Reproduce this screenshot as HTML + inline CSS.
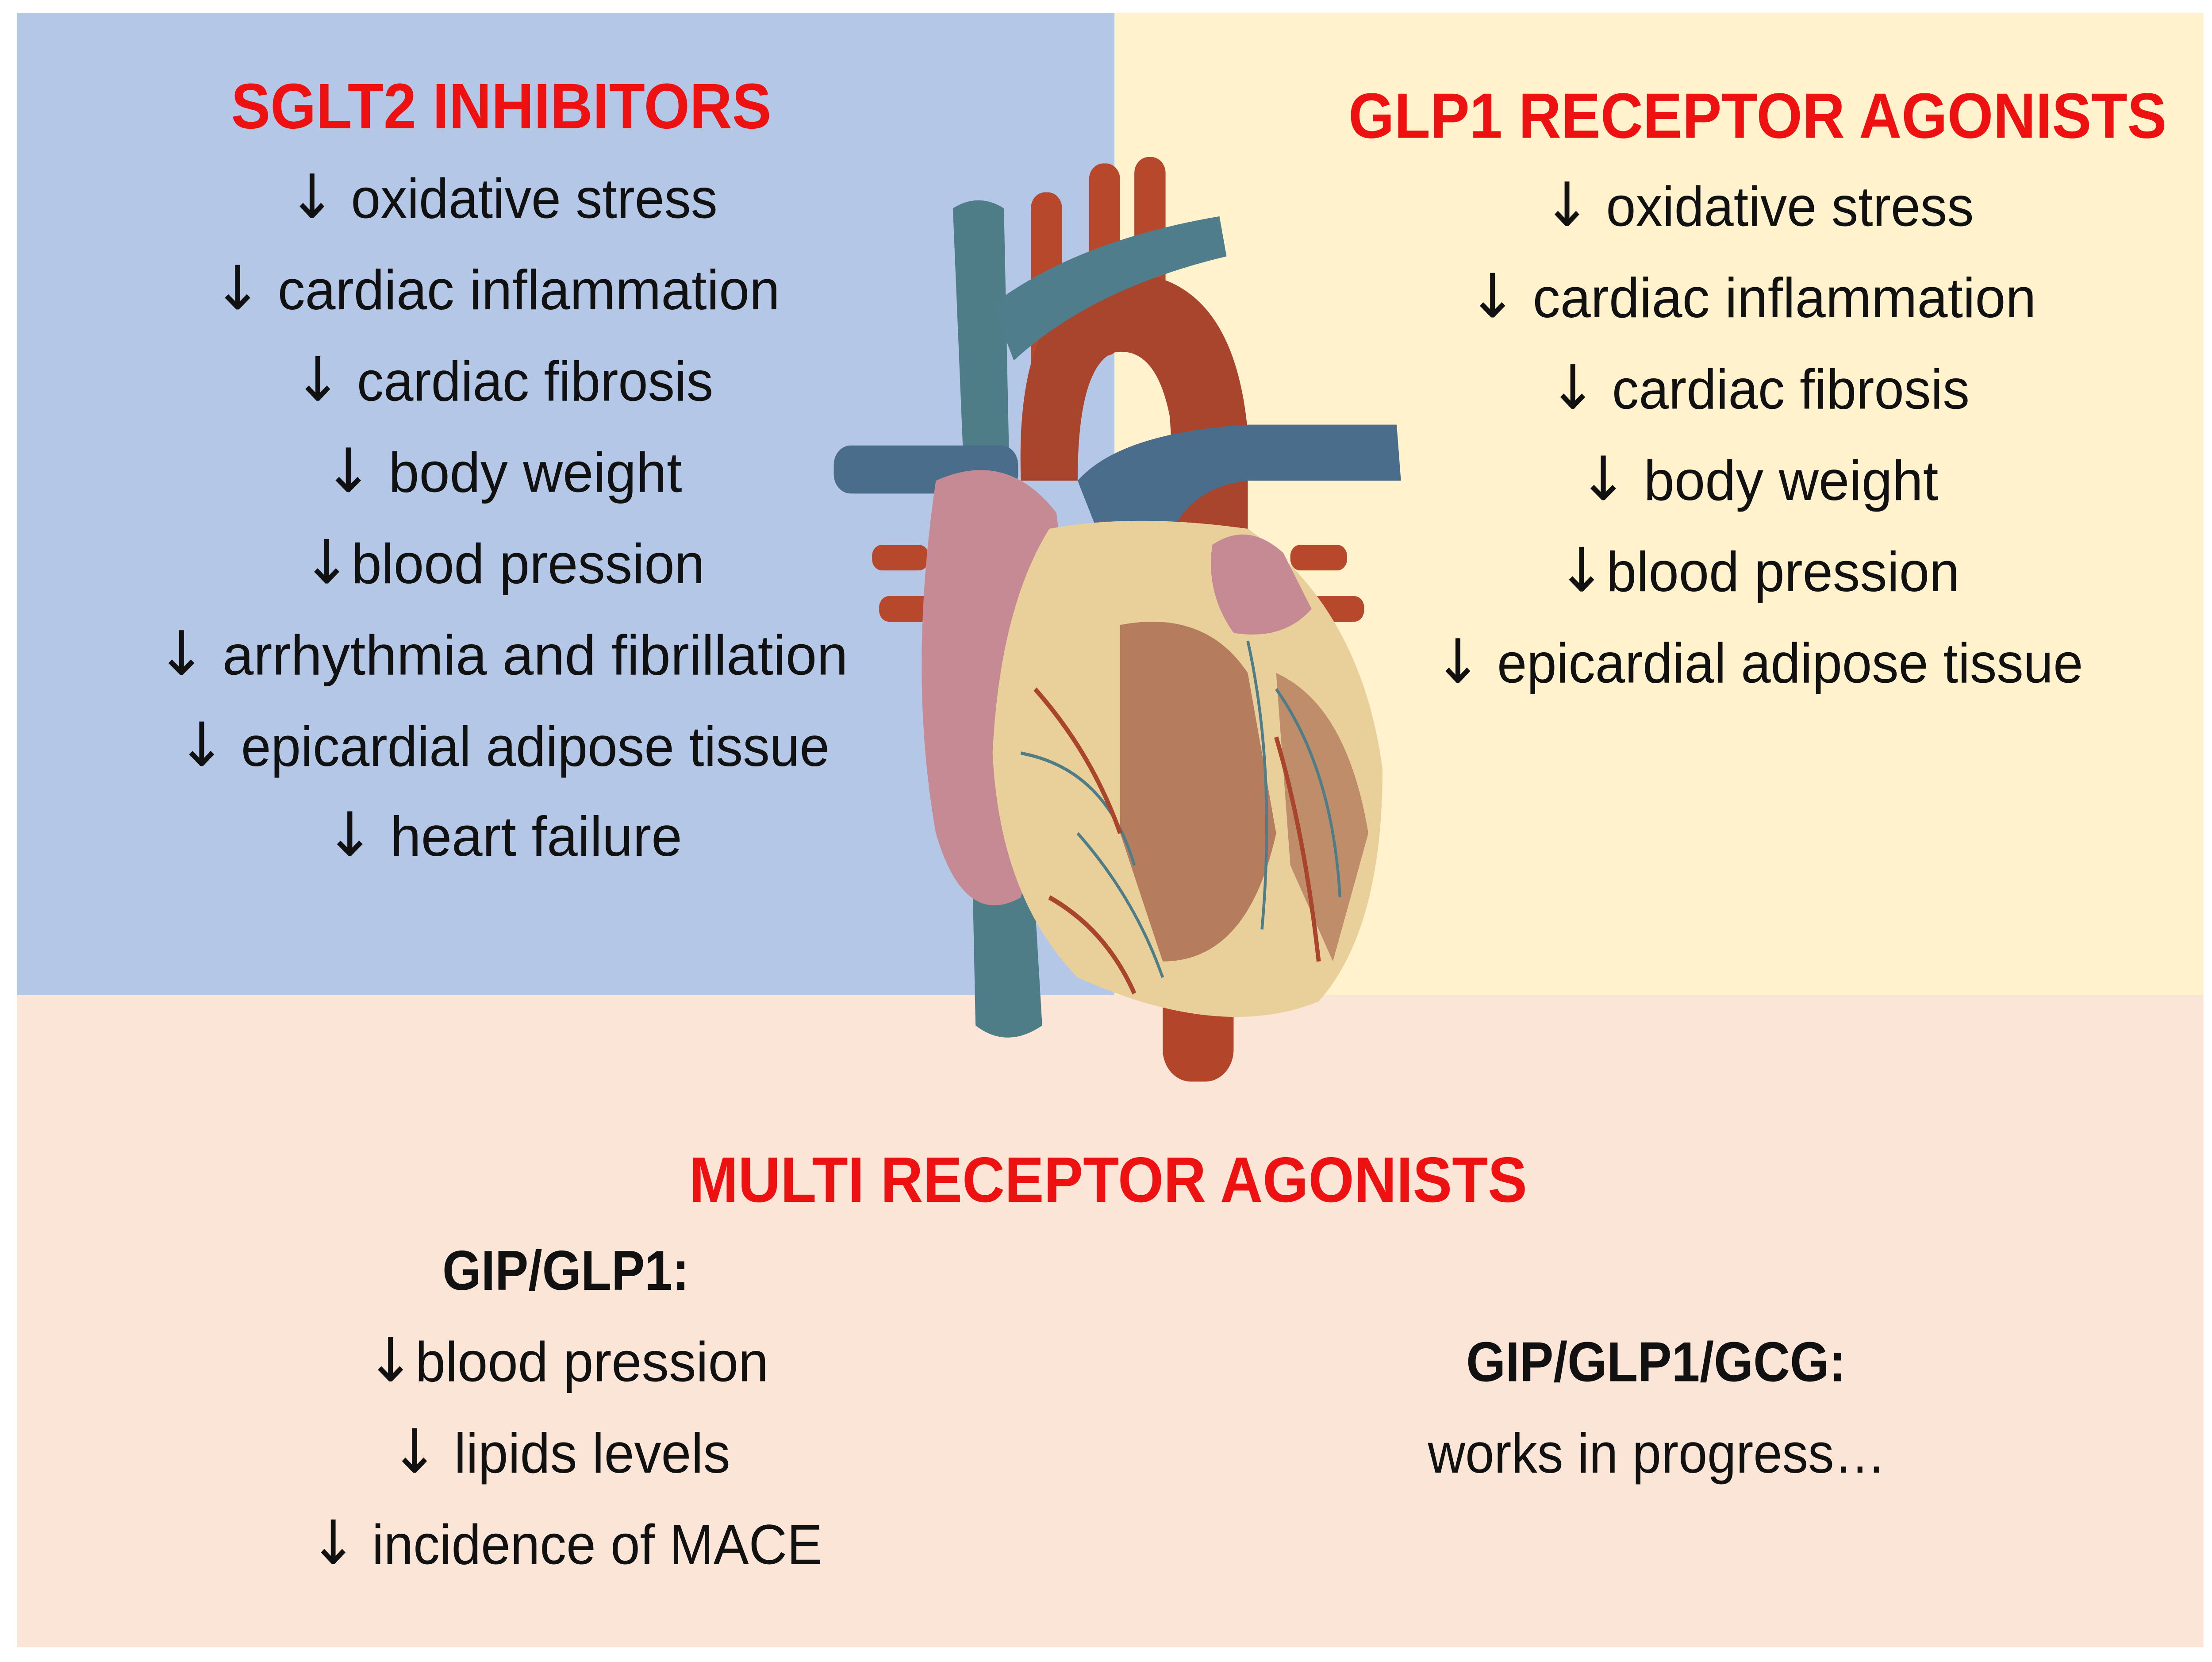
<!DOCTYPE html>
<html><head><meta charset="utf-8"><style>
html,body{margin:0;padding:0;background:#fff;overflow:hidden;width:100%;height:100%;}
svg{display:block;position:fixed;left:0;top:0;width:100vw;height:100vh;}
text{font-family:"Liberation Sans",sans-serif;font-size:35px;fill:#111;}
.r{fill:#ee1111;font-weight:bold;font-size:40px;}
.b{font-weight:bold;}
.a{font-family:"DejaVu Sans",sans-serif;font-size:38px;font-weight:normal;}
</style></head><body>
<svg viewBox="0 0 1560 1037.2" preserveAspectRatio="none">
 <rect x="0" y="0" width="1560" height="1038" fill="#fff"/>
 <rect x="12" y="8" width="774" height="613" fill="#b4c7e7"/>
 <rect x="786" y="8" width="768" height="613" fill="#fff2cc"/>
 <rect x="12" y="621" width="1542" height="407" fill="#fbe5d6"/>

 <path d="M672 130 Q690 120 708 130 L712 300 L735 640 Q710 655 688 640 L680 300 Z" fill="#4f7d87"/>
 <rect x="820" y="560" width="50" height="115" rx="20" fill="#b2452a"/>
 <rect x="727" y="120" width="22" height="120" rx="10" fill="#b8482c"/>
 <rect x="768" y="102" width="22" height="120" rx="10" fill="#b8482c"/>
 <rect x="800" y="98" width="22" height="120" rx="10" fill="#b8482c"/>
 <path d="M720 300 Q715 180 790 170 Q870 170 880 270 L880 330 L830 330 L825 260 Q815 215 785 220 Q760 230 760 300 Z" fill="#a8452c"/>
 <path d="M700 190 Q760 150 860 135 L865 160 Q770 180 715 225 Z" fill="#4f7d8c"/>
 <path d="M760 300 Q790 270 880 265 L985 265 L988 300 L880 300 Q830 305 820 350 L780 345 Z" fill="#4a6d8c"/>
 <rect x="588" y="278" width="130" height="30" rx="12" fill="#4a6d8c"/>
 <rect x="615" y="340" width="40" height="16" rx="7" fill="#b8482c"/>
 <rect x="620" y="372" width="40" height="16" rx="7" fill="#b8482c"/>
 <rect x="910" y="340" width="40" height="16" rx="7" fill="#b8482c"/>
 <rect x="920" y="372" width="42" height="16" rx="7" fill="#b8482c"/>
 <path d="M660 300 Q710 280 745 320 Q760 420 720 560 Q680 580 660 520 Q640 420 660 300 Z" fill="#c58a93"/>
 <path d="M740 330 Q800 320 880 330 Q960 380 975 480 Q975 580 930 625 Q860 650 760 610 Q705 560 700 470 Q705 380 740 330 Z" fill="#e9cf9a"/>
 <path d="M790 390 Q850 380 880 420 L900 520 Q880 600 820 600 L790 520 Z" fill="#a3604a" opacity="0.75"/>
 <path d="M900 420 Q950 440 965 520 L940 600 L910 540 Z" fill="#a3604a" opacity="0.6"/>
 <path d="M855 340 Q880 325 905 345 L925 380 Q905 400 870 395 Q850 370 855 340 Z" fill="#c58a93"/>
 <path d="M720 470 Q780 480 800 540 M880 400 Q900 480 890 580 M760 520 Q800 560 820 610 M900 430 Q940 480 945 560" stroke="#4f7d87" stroke-width="2" fill="none"/>
 <path d="M730 430 Q770 470 790 520 M900 460 Q920 520 930 600 M740 560 Q780 580 800 620" stroke="#a8452c" stroke-width="3" fill="none"/>

 <text class="r" x="163" y="80" textLength="381" lengthAdjust="spacingAndGlyphs">SGLT2 INHIBITORS</text>
 <text x="203" y="136" textLength="303" lengthAdjust="spacingAndGlyphs"><tspan class="a">↓</tspan> oxidative stress</text>
 <text x="150" y="193" textLength="400" lengthAdjust="spacingAndGlyphs"><tspan class="a">↓</tspan> cardiac inflammation</text>
 <text x="207" y="250" textLength="296" lengthAdjust="spacingAndGlyphs"><tspan class="a">↓</tspan> cardiac fibrosis</text>
 <text x="228" y="307" textLength="253" lengthAdjust="spacingAndGlyphs"><tspan class="a">↓</tspan> body weight</text>
 <text x="213" y="364" textLength="284" lengthAdjust="spacingAndGlyphs"><tspan class="a">↓</tspan>blood pression</text>
 <text x="110" y="421" textLength="488" lengthAdjust="spacingAndGlyphs"><tspan class="a">↓</tspan> arrhythmia and fibrillation</text>
 <text x="125" y="478" textLength="460" lengthAdjust="spacingAndGlyphs"><tspan class="a">↓</tspan> epicardial adipose tissue</text>
 <text x="229" y="534" textLength="252" lengthAdjust="spacingAndGlyphs"><tspan class="a">↓</tspan> heart failure</text>

 <text class="r" x="951" y="86" textLength="577" lengthAdjust="spacingAndGlyphs">GLP1 RECEPTOR AGONISTS</text>
 <text x="1088" y="141" textLength="304" lengthAdjust="spacingAndGlyphs"><tspan class="a">↓</tspan> oxidative stress</text>
 <text x="1035" y="198" textLength="401" lengthAdjust="spacingAndGlyphs"><tspan class="a">↓</tspan> cardiac inflammation</text>
 <text x="1092" y="255" textLength="297" lengthAdjust="spacingAndGlyphs"><tspan class="a">↓</tspan> cardiac fibrosis</text>
 <text x="1113" y="312" textLength="254" lengthAdjust="spacingAndGlyphs"><tspan class="a">↓</tspan> body weight</text>
 <text x="1098" y="369" textLength="284" lengthAdjust="spacingAndGlyphs"><tspan class="a">↓</tspan>blood pression</text>
 <text x="1011" y="426" textLength="458" lengthAdjust="spacingAndGlyphs"><tspan class="a">↓</tspan> epicardial adipose tissue</text>

 <text class="r" x="486" y="750" textLength="591" lengthAdjust="spacingAndGlyphs">MULTI RECEPTOR AGONISTS</text>
 <text class="b" x="312" y="805" textLength="174" lengthAdjust="spacingAndGlyphs">GIP/GLP1:</text>
 <text x="258" y="862" textLength="284" lengthAdjust="spacingAndGlyphs"><tspan class="a">↓</tspan>blood pression</text>
 <text x="275" y="919" textLength="240" lengthAdjust="spacingAndGlyphs"><tspan class="a">↓</tspan> lipids levels</text>
 <text x="218" y="976" textLength="362" lengthAdjust="spacingAndGlyphs"><tspan class="a">↓</tspan> incidence of MACE</text>
 <text class="b" x="1034" y="862" textLength="268" lengthAdjust="spacingAndGlyphs">GIP/GLP1/GCG:</text>
 <text x="1007" y="919" textLength="323" lengthAdjust="spacingAndGlyphs">works in progress…</text>
</svg>
</body></html>
